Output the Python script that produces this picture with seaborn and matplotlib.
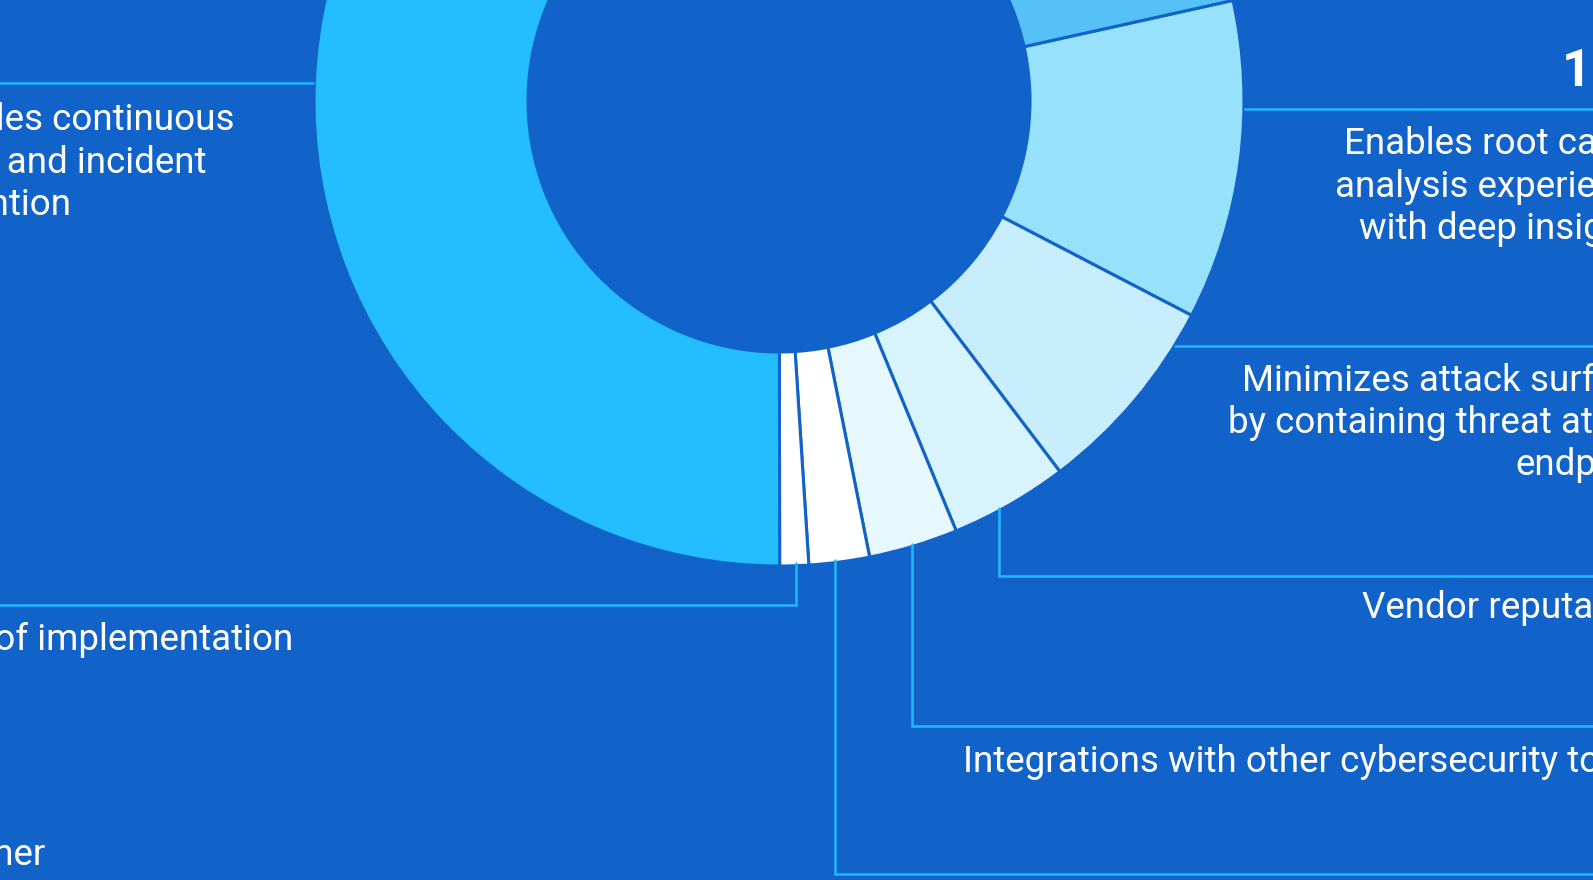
import numpy as np
import matplotlib
matplotlib.use("Agg")
import matplotlib.pyplot as plt
import seaborn as sns

# ---- data ----
categories = [
    "Enables root cause analysis experience with deep insights",
    "Minimizes attack surface by containing threat at the endpoint",
    "Vendor reputation",
    "Integrations with other cybersecurity tools",
    "Ease of use",
    "Ease of implementation",
    "Enables continuous monitoring and incident prevention",
    "Provides automated response",
]
shares = [11.1, 7.05, 4.1, 3.1, 2.1, 1.0, 51.2, 20.35]
slice_colors = ["#96E1FB", "#C8EEFD", "#D7F4FE", "#E6F7FE", "#FFFFFF", "#FFFFFF", "#24BDFF", "#55C1F6"]
pct_label_a = "11%"

BG = "#1263C9"
LEAD = "#22B7FF"

sns.set_theme(style="white")
plt.rcParams["font.family"] = ["Roboto", "DejaVu Sans"]

W, H = 1593, 880
fig = plt.figure(figsize=(W / 100, H / 100), dpi=100, facecolor=BG)
ax = fig.add_axes([0, 0, 1, 1])
ax.set_facecolor(BG)

def Y(yp):
    return H - yp

cx, cy = 779, 101        # donut centre in pixel coords
R, WID = 465, 214
start = 12.5

ax.pie(shares, colors=slice_colors, startangle=start, counterclock=False,
       radius=R, center=(cx, Y(cy)), frame=True,
       wedgeprops=dict(width=WID, edgecolor=BG, linewidth=2.2))

ax.set_xlim(0, W)
ax.set_ylim(0, H)
ax.set_aspect("equal")
ax.axis("off")

lw = 1.8
def hline_from_edge(yp, side, x_end):
    dx = np.sqrt(R ** 2 - (yp - cy) ** 2)
    x0 = cx + side * dx
    ax.plot([x0, x_end], [Y(yp), Y(yp)], color=LEAD, lw=lw, solid_capstyle="butt", zorder=1)

def vleader(xp, y_turn, x_end):
    y0 = cy + np.sqrt(R ** 2 - (xp - cx) ** 2) - 3
    ax.plot([xp, xp, x_end], [Y(y0), Y(y_turn), Y(y_turn)], color=LEAD, lw=lw,
            solid_joinstyle="miter", zorder=1)

# leader lines
hline_from_edge(109, +1, W + 5)     # root cause
hline_from_edge(346, +1, W + 5)     # attack surface
hline_from_edge(83, -1, -5)         # continuous monitoring
vleader(999, 576, W + 5)            # vendor reputation
vleader(912, 726, W + 5)            # integrations
vleader(835, 874, W + 5)            # ease of use
vleader(796, 605, -5)               # ease of implementation

fs = 26.5
def txt(s, x, yb, ha, size=fs, weight="normal"):
    ax.text(x, Y(yb), s, ha=ha, va="baseline", color="white", fontsize=size,
            fontweight=weight, zorder=3)

# left big slice label
txt("Enables continuous", 234, 130, "right")
txt("monitoring and incident", 206, 173, "right")
txt("prevention", 71, 215, "right")

# root cause
txt(pct_label_a, 1562, 86, "left", size=37, weight="bold")
txt("Enables root cause", 1344, 154, "left")
txt("analysis experience", 1335, 197, "left")
txt("with deep insights", 1359, 239, "left")

# attack surface
txt("Minimizes attack surface", 1242, 391, "left")
txt("by containing threat at the", 1228, 433, "left")
txt("endpoint", 1515, 475, "left")

txt("Vendor reputation", 1362, 618, "left")
txt("Integrations with other cybersecurity tools", 963, 772, "left")
txt("Ease of implementation", 293, 650, "right")
txt("Other", 46, 865, "right")

fig.savefig("out.png", dpi=100, facecolor=BG)
